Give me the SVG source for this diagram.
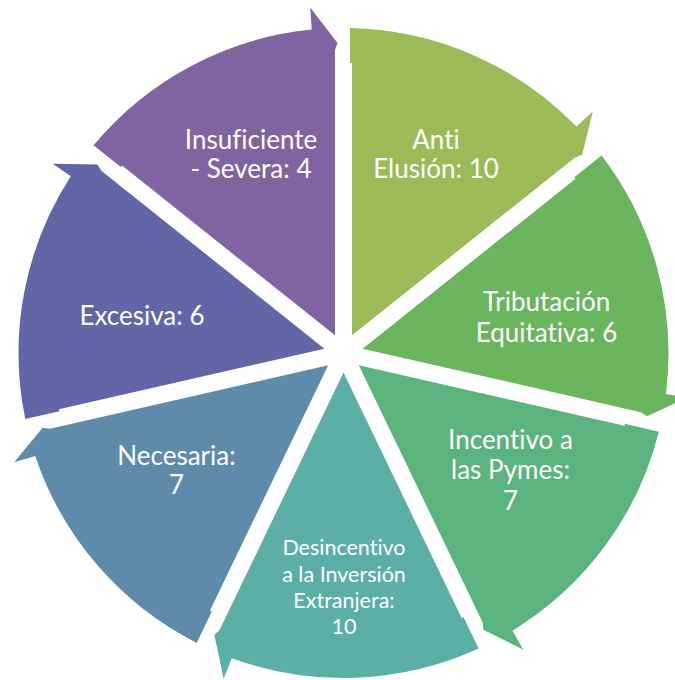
<svg xmlns="http://www.w3.org/2000/svg" xmlns:xlink="http://www.w3.org/1999/xlink" width="675" height="680" viewBox="0 0 675 680">
<defs>
<style>
.lbl{font-family:Lato,"Liberation Sans",sans-serif;font-size:26px;fill:#FFFFFF;text-anchor:middle;font-variant-ligatures:none;font-feature-settings:"liga" 0,"clig" 0}
.sm{font-size:21.5px}
</style>
<path id="seg" d="M 8.5,-17.65 L 8.5,-290 L 6.5,-290 L 6.5,-324.93 A 325 325 0 0 1 233.08,-226.49 L 249.28,-241.38 L 238.63,-197.97 L 231.59,-195.57 Z"/>
</defs>
<rect width="675" height="680" fill="#FFFFFF"/>
<g id="node-anti">
<use xlink:href="#seg" href="#seg" fill="#9BBB59" transform="translate(343.5,353) rotate(0)"/>
<text class="lbl" x="436" y="149">Anti</text>
<text class="lbl" x="436" y="178">Elusión: 10</text>
</g>
<g id="node-tributacion">
<use xlink:href="#seg" href="#seg" fill="#6AB55E" transform="translate(343.5,353) rotate(51.4286)"/>
<text class="lbl" x="546.5" y="311">Tributación</text>
<text class="lbl" x="546.5" y="342">Equitativa: 6</text>
</g>
<g id="node-incentivo">
<use xlink:href="#seg" href="#seg" fill="#5BB37E" transform="translate(343.5,353) rotate(102.8571)"/>
<text class="lbl" x="510.5" y="449">Incentivo a</text>
<text class="lbl" x="510.5" y="479">las Pymes:</text>
<text class="lbl" x="510.5" y="510">7</text>
</g>
<g id="node-desincentivo">
<use xlink:href="#seg" href="#seg" fill="#5CAFA6" transform="translate(343.5,353) rotate(154.2857)"/>
<text class="lbl sm" x="344" y="555">Desincentivo</text>
<text class="lbl sm" x="344" y="582">a la Inversión</text>
<text class="lbl sm" x="344" y="608">Extranjera:</text>
<text class="lbl sm" x="344" y="634">10</text>
</g>
<g id="node-necesaria">
<use xlink:href="#seg" href="#seg" fill="#5E8BAA" transform="translate(343.5,353) rotate(205.7143)"/>
<text class="lbl" x="176.5" y="465">Necesaria:</text>
<text class="lbl" x="176.5" y="494">7</text>
</g>
<g id="node-excesiva">
<use xlink:href="#seg" href="#seg" fill="#6066A6" transform="translate(343.5,353) rotate(257.1429)"/>
<text class="lbl" x="142" y="325">Excesiva: 6</text>
</g>
<g id="node-insuficiente">
<use xlink:href="#seg" href="#seg" fill="#8064A2" transform="translate(343.5,353) rotate(308.5714)"/>
<text class="lbl" x="251" y="149">Insuficiente</text>
<text class="lbl" x="251" y="178">- Severa: 4</text>
</g>
</svg>
